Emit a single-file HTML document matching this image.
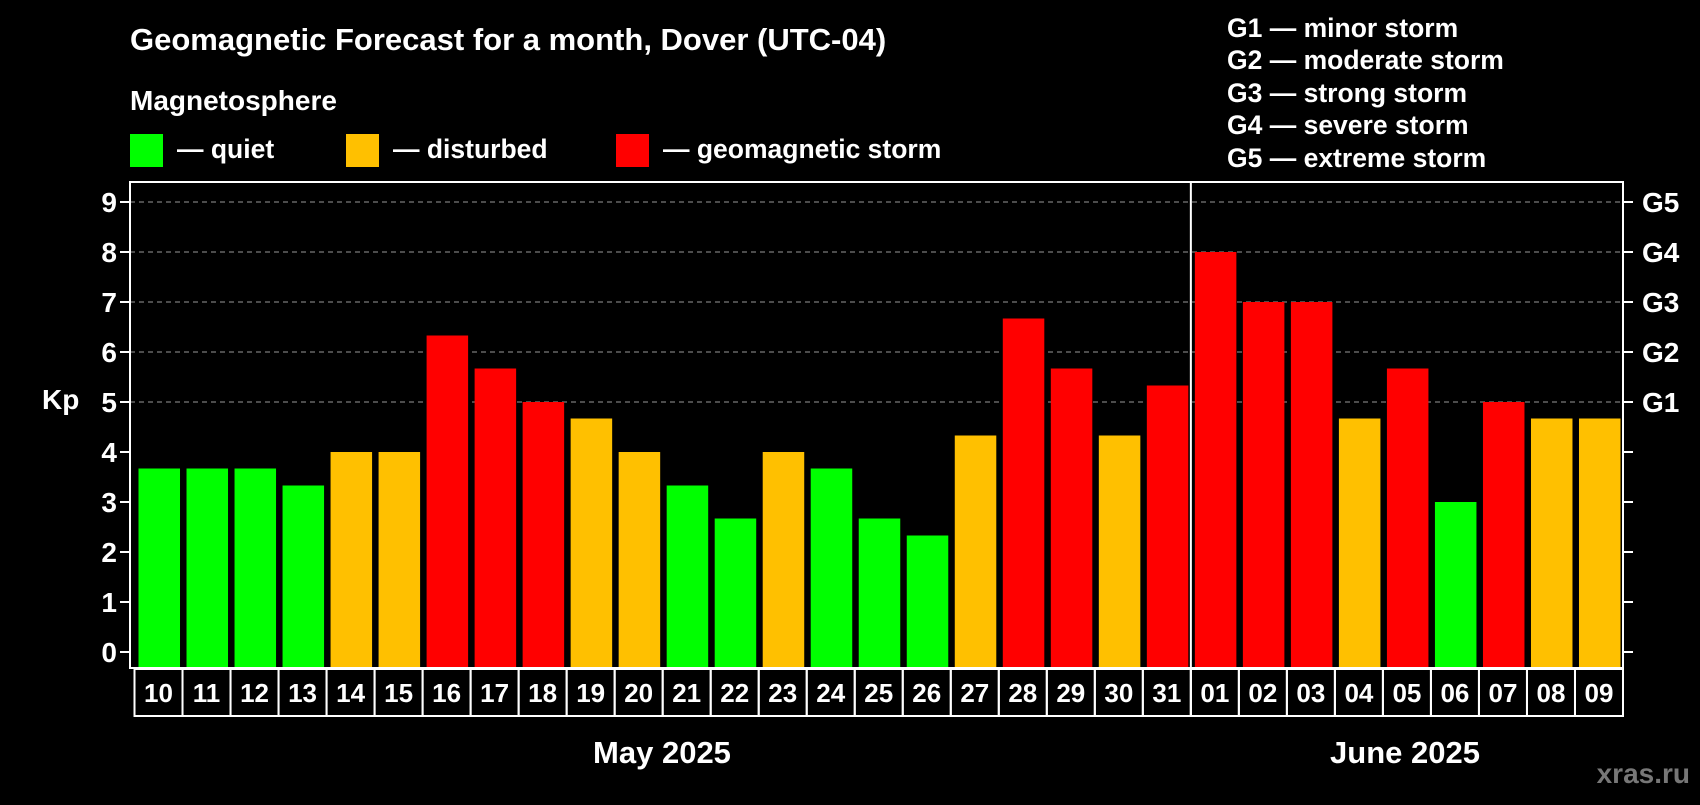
<!DOCTYPE html>
<html><head><meta charset="utf-8"><style>
body{margin:0;background:#000;width:1700px;height:800px;overflow:hidden;font-family:"Liberation Sans",sans-serif;font-weight:bold;color:#fff}
</style></head><body>
<svg id="chart" width="1700" height="800" xmlns="http://www.w3.org/2000/svg" font-family="Liberation Sans, sans-serif" font-weight="bold">
<text x="130" y="50" fill="#fff" font-size="31">Geomagnetic Forecast for a month, Dover (UTC-04)</text>
<text x="130" y="110" fill="#fff" font-size="28">Magnetosphere</text>
<rect x="130" y="134" width="33" height="33" fill="#00ff00"/>
<text x="177" y="158" fill="#fff" font-size="26.5">— quiet</text>
<rect x="346" y="134" width="33" height="33" fill="#ffc000"/>
<text x="393" y="158" fill="#fff" font-size="26.5">— disturbed</text>
<rect x="616" y="134" width="33" height="33" fill="#ff0000"/>
<text x="663" y="158" fill="#fff" font-size="26.5">— geomagnetic storm</text>
<g font-size="26.5" fill="#fff">
<text x="1227" y="37">G1 — minor storm</text>
<text x="1227" y="69">G2 — moderate storm</text>
<text x="1227" y="102">G3 — strong storm</text>
<text x="1227" y="134">G4 — severe storm</text>
<text x="1227" y="167">G5 — extreme storm</text>
</g>
<text x="42" y="409" fill="#fff" font-size="28">Kp</text>
<g id="grid"></g><g id="bars"></g><g id="axes"></g>
<text x="662" y="763" fill="#fff" font-size="31" text-anchor="middle">May 2025</text>
<text x="1405" y="763" fill="#fff" font-size="31" text-anchor="middle">June 2025</text>
<text x="1690" y="783" fill="#777" font-size="28" text-anchor="end">xras.ru</text>
</svg>
<script>
const days=["10","11","12","13","14","15","16","17","18","19","20","21","22","23","24","25","26","27","28","29","30","31","01","02","03","04","05","06","07","08","09"];
const kp=[3.67,3.67,3.67,3.33,4,4,6.33,5.67,5,4.67,4,3.33,2.67,4,3.67,2.67,2.33,4.33,6.67,5.67,4.33,5.33,8,7,7,4.67,5.67,3,5,4.67,4.67];
const level=["q","q","q","q","d","d","s","s","s","d","d","q","q","d","q","q","q","d","s","s","d","s","s","s","s","d","s","q","s","d","d"];
const yTicks=[0,1,2,3,4,5,6,7,8,9];
const gTicks=["","","","","","G1","G2","G3","G4","G5"];
const NS="http://www.w3.org/2000/svg";
const L=130,R=1623,T=182,B=668,X0=134.5,SW=(R-X0)/31;
const y=v=>652-v*(652-202)/9;
const x=i=>X0+i*SW;
const colors={q:"#00ff00",d:"#ffc000",s:"#ff0000"};
function mk(tag,attrs,parent){const e=document.createElementNS(NS,tag);for(const k in attrs)e.setAttribute(k,attrs[k]);parent.appendChild(e);return e;}
const grid=document.getElementById('grid'),bars=document.getElementById('bars'),axes=document.getElementById('axes');
yTicks.forEach((t,i)=>{
 if(t>=5){const g=mk('line',{x1:L,x2:R,y1:y(t),y2:y(t),stroke:'#999','stroke-dasharray':'5,4','stroke-width':1},grid);
 
 }
 const tl=mk('line',{x1:L-10,x2:L,y1:y(t),y2:y(t),stroke:'#fff','stroke-width':2},axes);
 
 
 const tr=mk('line',{x1:R,x2:R+10,y1:y(t),y2:y(t),stroke:'#fff','stroke-width':2},axes);
 
 
 const lb=mk('text',{x:117,y:y(t)+10,fill:'#fff','font-size':28,'text-anchor':'end'},axes);lb.textContent=t;
 
 
 if(gTicks[i]){const g=mk('text',{x:1642,y:y(t)+10,fill:'#fff','font-size':28},axes);g.textContent=gTicks[i];
 
 }
});
kp.forEach((v,i)=>{
 const r=mk('rect',{x:x(i)+4,y:y(v),width:SW-6.5,height:B-y(v),fill:colors[level[i]]},bars);
 
 
 const c=mk('rect',{x:x(i),y:B+1,width:SW,height:47,fill:'none',stroke:'#fff','stroke-width':2},axes);
 
 
 const t=mk('text',{x:x(i)+SW/2,y:B+34,fill:'#fff','font-size':26,'text-anchor':'middle'},axes);t.textContent=days[i];
 
 
});
const box=mk('rect',{x:L,y:T,width:R-L,height:B-T,fill:'none',stroke:'#fff','stroke-width':2},axes);


const dv=mk('line',{x1:x(22),x2:x(22),y1:T,y2:B+48,stroke:'#fff','stroke-width':2},axes);


</script>
</body></html>
